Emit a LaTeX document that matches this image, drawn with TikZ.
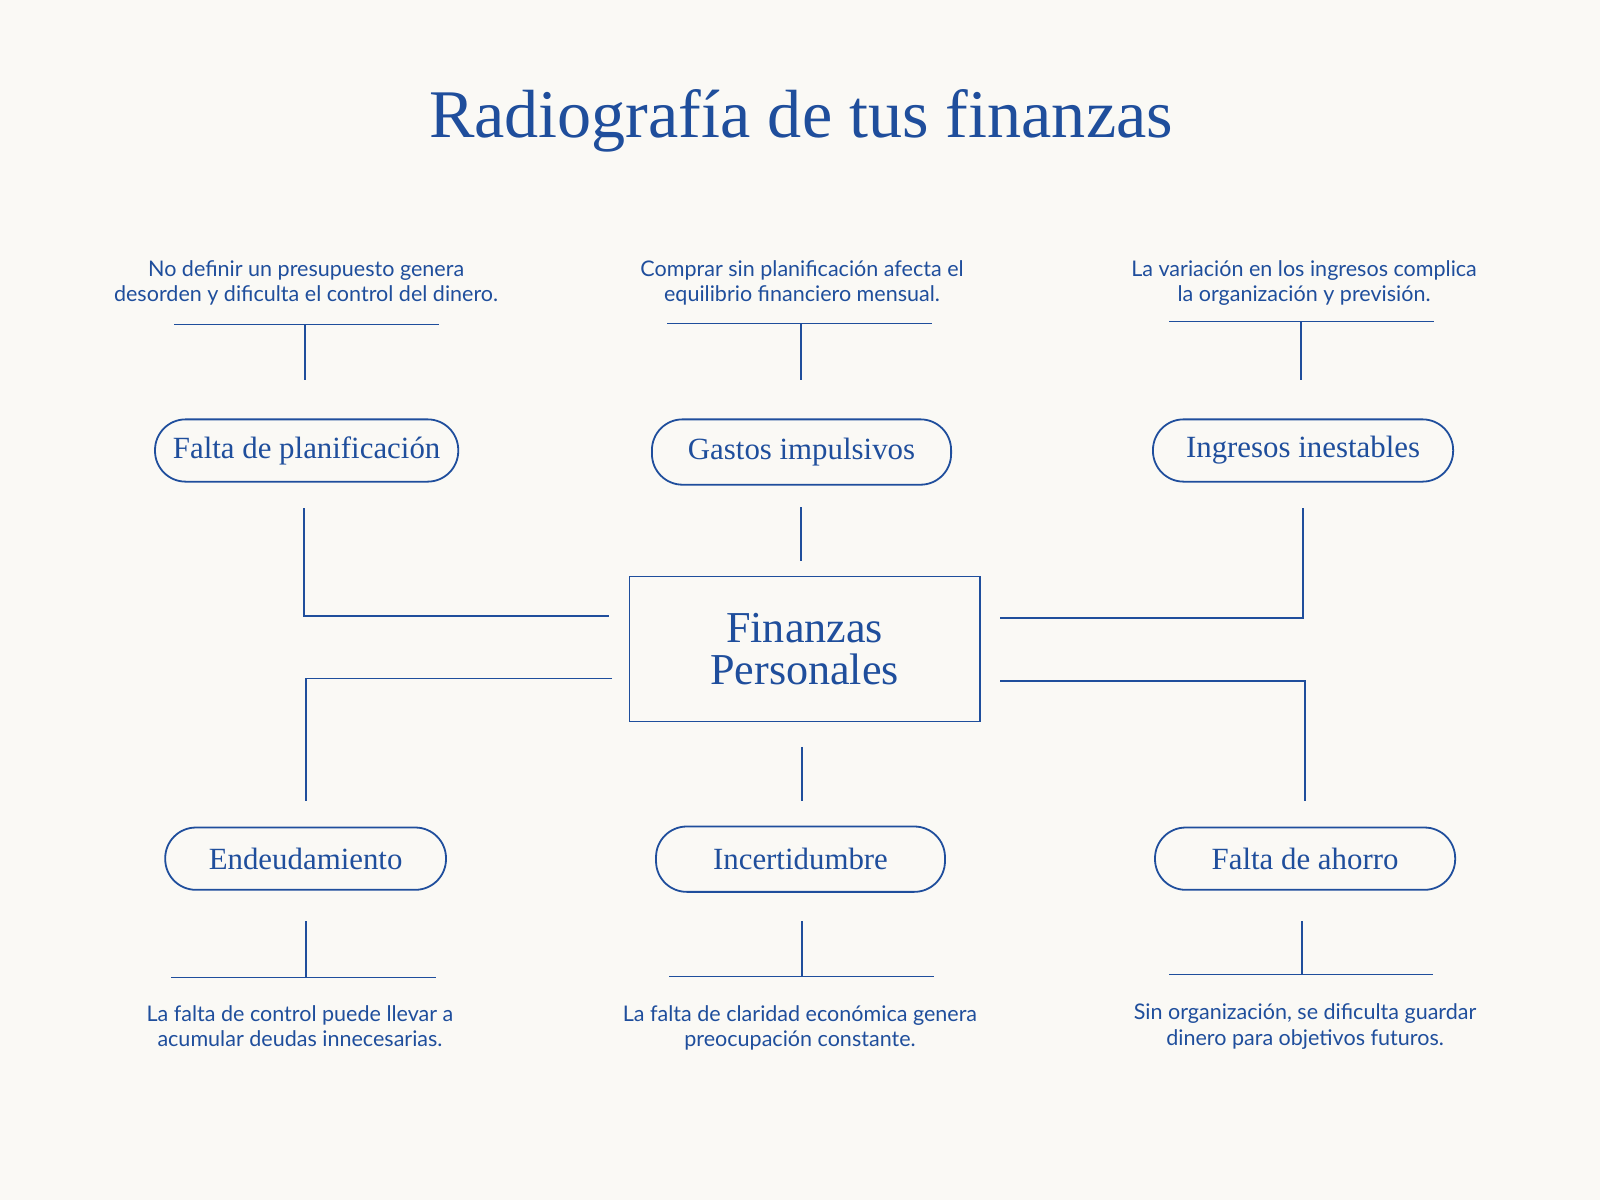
\documentclass[tikz,border=0pt]{standalone}
\usepackage{fontspec}
\setmainfont{Liberation Serif}
\newfontfamily\descfont{Lato}
\definecolor{inkblue}{HTML}{1F4E9C}
\definecolor{paper}{HTML}{FAF9F5}
\begin{document}
\begin{tikzpicture}[x=0.01cm,y=-0.01cm,
  pill/.style={draw=inkblue,line width=0.5pt,rounded corners=0.3cm,inner sep=0pt,
    text=inkblue,font=\fontsize{8.6}{10}\selectfont},
  desc/.style={text=inkblue,align=center,font=\descfont\fontsize{6.0}{7.0}\selectfont},
  link/.style={draw=inkblue,line width=0.5pt}]
% background
\fill[paper] (0,0) rectangle (1568,1176);
\useasboundingbox (0,0) rectangle (1568,1176);
% title
\node[text=inkblue,font=\fontsize{19}{23}\selectfont] (title) at (785,118) {Radiografía de tus finanzas};
% centre
\node[draw=inkblue,line width=0.5pt,minimum width=3.43cm,minimum height=1.42cm,
  text=inkblue,align=center,font=\fontsize{12.3}{11.6}\selectfont] (centre) at (788.5,636) {Finanzas\\Personales};
% causes and effects
\node[pill,minimum width=2.97cm,minimum height=0.61cm] (plan) at (300.5,441.5) {Falta de planificación};
\node[pill,minimum width=2.93cm,minimum height=0.64cm] (gastos) at (785.5,443) {Gastos impulsivos};
\node[pill,minimum width=2.94cm,minimum height=0.61cm] (ingresos) at (1277,441.5) {Ingresos inestables};
\node[pill,minimum width=2.75cm,minimum height=0.61cm] (deuda) at (299.5,841.5) {Endeudamiento};
\node[pill,minimum width=2.83cm,minimum height=0.64cm] (incert) at (784.5,842) {Incertidumbre};
\node[pill,minimum width=2.94cm,minimum height=0.61cm] (ahorro) at (1279,841.5) {Falta de ahorro};
% descriptions
\node[desc] (dplan) at (300,277) {No definir un presupuesto genera\\desorden y dificulta el control del dinero.};
\node[desc] (dgastos) at (786,277) {Comprar sin planificación afecta el\\equilibrio financiero mensual.};
\node[desc] (dingresos) at (1278,277) {La variación en los ingresos complica\\la organización y previsión.};
\node[desc] (ddeuda) at (294,1006) {La falta de control puede llevar a\\acumular deudas innecesarias.};
\node[desc] (dincert) at (784,1007) {La falta de claridad económica genera\\preocupación constante.};
\node[desc] (dahorro) at (1279,1006) {Sin organización, se dificulta guardar\\dinero para objetivos futuros.};
% upper brackets
\draw[link] (171,318) -- (430,318) (299,318) -- (299,372);
\draw[link] (654,317) -- (913,317) (785,317) -- (785,372);
\draw[link] (1146,315) -- (1405,315) (1275,315) -- (1275,372);
% links to centre
\draw[link] (785,497) -- (785,550);
\draw[link] (298,498) |- (597,604);
\draw[link] (1277,498) |- (980,606);
\draw[link] (600,665) -| (300,785);
\draw[link] (980,667) -| (1279,785);
\draw[link] (786,732) -- (786,785);
% lower brackets
\draw[link] (300,903) -- (300,958) (168,958) -- (427,958);
\draw[link] (786,903) -- (786,957) (656,957) -- (915,957);
\draw[link] (1276,903) -- (1276,955) (1146,955) -- (1404,955);
\end{tikzpicture}
\end{document}
